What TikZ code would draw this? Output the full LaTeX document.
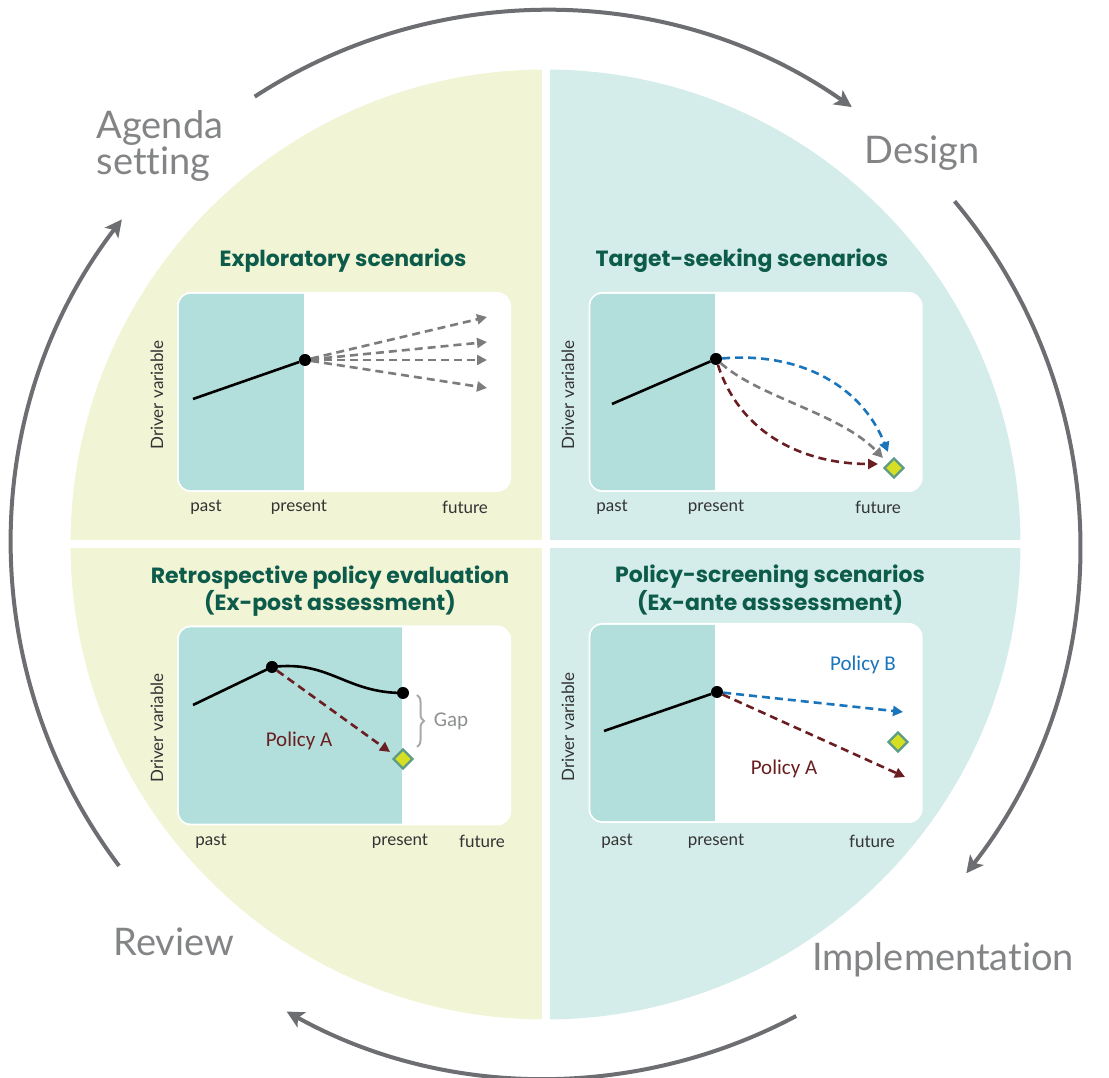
\documentclass[tikz,border=0pt]{standalone}
\usepackage{fontspec}
\setmainfont{Lato}[Ligatures={NoCommon}]
\newfontfamily\titleFont{Poppins}
\newfontfamily\noteFont{Carlito}
\usetikzlibrary{arrows.meta, positioning, shapes.geometric, calc, decorations.pathreplacing}
\definecolor{verdeClaro}{HTML}{F1F5D6}
\definecolor{aguaClaro}{HTML}{D5EDEA}
\definecolor{aguaMedio}{HTML}{B2DFDB}
\definecolor{verdeOscuro}{HTML}{0D5C4B}
\definecolor{grisCiclo}{HTML}{6D6E71}
\definecolor{grisClaro}{HTML}{A7A9AC}
\definecolor{granate}{HTML}{6A1E22}
\definecolor{azulPolitica}{HTML}{1B75BB}
\definecolor{amarilloMeta}{HTML}{D7DF23}
\definecolor{verdeMeta}{HTML}{5E9C86}
\colorlet{colLeft}{verdeClaro}
\colorlet{colRight}{aguaClaro}
\colorlet{colShade}{aguaMedio}
\colorlet{colTitle}{verdeOscuro}
\colorlet{colCycle}{grisCiclo}
\colorlet{colStage}{grisCiclo!85!white}
\colorlet{colAxis}{black!80}
\colorlet{colPolicyA}{granate}
\colorlet{colPolicyB}{azulPolitica}
\colorlet{colBrace}{grisClaro}
\tikzset{
  panelBox/.style={fill=white, rounded corners=14pt, minimum width=334pt,
    minimum height=200pt, inner sep=0pt},
  pastZone/.style={fill=colShade},
  trendLine/.style={line width=2.6pt, black},
  nowDot/.style={circle, fill=black, minimum size=12pt, inner sep=0pt},
  targetMark/.style={diamond, draw=verdeMeta, line width=2.4pt, fill=amarilloMeta,
    minimum size=20pt, inner sep=0pt},
  pathArrow/.style={-{Triangle[length=10pt, width=10pt]}, line width=2.6pt,
    dash pattern=on 8pt off 5pt},
  cycleArrow/.style={-{Stealth[length=17pt, width=17pt, inset=4pt]}, line width=4pt, colCycle},
  titleLabel/.style={font=\titleFont\bfseries\fontsize{22}{22}\selectfont, text=colTitle,
    align=center},
  axisLabel/.style={font=\fontsize{17}{19}\selectfont, text=colAxis},
  stageLabel/.style={font=\fontsize{38}{36}\selectfont, text=colStage, align=left},
  policyLabel/.style={font=\noteFont\fontsize{21}{23}\selectfont},
}
\begin{document}
\begin{tikzpicture}[x=1pt, y=1pt]
  \useasboundingbox (0,0) rectangle (1109,1078);
  \coordinate (C) at (545.5,533.5);

  % quadrantes
  \fill[colLeft] (C) ++(90:475) arc[start angle=90, end angle=270, radius=475] -- cycle;
  \fill[colRight] (C) ++(90:475) arc[start angle=90, end angle=-90, radius=475] -- cycle;
  \draw[white, line width=8pt] ($(C)+(0,-480)$) -- ($(C)+(0,480)$);
  \draw[white, line width=8pt] ($(C)+(-480,0)$) -- ($(C)+(480,0)$);

  % ciclo de politica
  \node[stageLabel] (agenda) at (160,932) {Agenda\\setting};
  \node[stageLabel] (design) at (922,925) {Design};
  \node[stageLabel] (implem) at (943,118) {Implementation};
  \node[stageLabel] (review) at (174,136) {Review};
  \coordinate (topS) at ($(C)+(123:534)$);
  \coordinate (rightS) at ($(C)+(40:534)$);
  \coordinate (bottomS) at ($(C)+(-62:534)$);
  \coordinate (leftS) at ($(C)+(217:534)$);
  \draw[cycleArrow] (topS) arc[start angle=123, end angle=55, radius=534];
  \draw[cycleArrow] (rightS) arc[start angle=40, end angle=-38, radius=534];
  \draw[cycleArrow] (bottomS) arc[start angle=-62, end angle=-119, radius=534];
  \draw[cycleArrow] (leftS) arc[start angle=217, end angle=142.5, radius=534];

  % exploratorio
  \node[titleLabel] (expTitle) at (343,817) {Exploratory scenarios};
  \node[panelBox] (expBox) at (344,686) {};
  \begin{scope}
    \clip[rounded corners=12pt] ($(expBox.south west)+(2,2)$) rectangle ($(expBox.north east)-(2,2)$);
    \fill[pastZone] (expBox.south west) rectangle (304,786);
  \end{scope}
  \coordinate (expStart) at (193,679);
  \node[nowDot] (expNow) at (305,718) {};
  \draw[trendLine] (expStart) -- (expNow);
  \foreach \y [count=\i] in {761,736,718,690} {
    \coordinate (expEnd\i) at (487,\y);
    \draw[pathArrow, colCycle!90!white] (expNow) -- (expEnd\i);
  }
  \node[axisLabel, rotate=90] (expDriver) at (157,683) {Driver variable};
  \node[axisLabel] (expPast) at (206,571) {past};
  \node[axisLabel] (expPresent) at (299,571) {present};
  \node[axisLabel] (expFuture) at (465,571) {future};

  % busqueda de meta
  \node[titleLabel] (tgtTitle) at (742,817) {Target-seeking scenarios};
  \node[panelBox] (tgtBox) at (755.5,686) {};
  \begin{scope}
    \clip[rounded corners=12pt] ($(tgtBox.south west)+(2,2)$) rectangle ($(tgtBox.north east)-(2,2)$);
    \fill[pastZone] (tgtBox.south west) rectangle (715,786);
  \end{scope}
  \coordinate (tgtStart) at (612,674);
  \node[nowDot] (tgtNow) at (716,719) {};
  \draw[trendLine] (tgtStart) -- (tgtNow);
  \node[targetMark] (tgtGoal) at (894,610) {};
  \coordinate (tgtEndB) at (888,626);
  \coordinate (tgtEndG) at (883,620);
  \coordinate (tgtEndA) at (878,614);
  \draw[pathArrow, colPolicyB] (tgtNow) to[out=5, in=112] (tgtEndB);
  \draw[pathArrow, colCycle!90!white] (tgtNow) .. controls (760,680) and (840,665) .. (tgtEndG);
  \draw[pathArrow, colPolicyA] (tgtNow) to[out=-72, in=180] (tgtEndA);
  \node[axisLabel, rotate=90] (tgtDriver) at (568,683) {Driver variable};
  \node[axisLabel] (tgtPast) at (612,571) {past};
  \node[axisLabel] (tgtPresent) at (716,571) {present};
  \node[axisLabel] (tgtFuture) at (878,571) {future};

  % evaluacion retrospectiva
  \node[titleLabel] (retTitle) at (330,487) {Retrospective policy evaluation\\(Ex-post assessment)};
  \node[panelBox] (retBox) at (344,352.5) {};
  \begin{scope}
    \clip[rounded corners=12pt] ($(retBox.south west)+(2,2)$) rectangle ($(retBox.north east)-(2,2)$);
    \fill[pastZone] (retBox.south west) rectangle (402,453);
  \end{scope}
  \coordinate (retStart) at (193,373);
  \node[nowDot] (retPeak) at (272,411) {};
  \node[nowDot] (retNow) at (403,385) {};
  \draw[trendLine] (retStart) -- (retPeak.center)
    .. controls (330,418) and (345,385) .. (retNow.center);
  \coordinate (retEndA) at (390,326);
  \draw[pathArrow, colPolicyA] (retPeak) -- (retEndA);
  \node[targetMark] (retGoal) at (403,319) {};
  \draw[decorate, decoration={brace, amplitude=7pt}, line width=2pt, colBrace]
    (417,383) -- (417,331);
  \node[policyLabel, text=colBrace!85!black] (gapLabel) at (451,357) {Gap};
  \node[policyLabel, text=colPolicyA] (retPolA) at (299,337) {Policy A};
  \node[axisLabel, rotate=90] (retDriver) at (157,350) {Driver variable};
  \node[axisLabel] (retPast) at (211,237) {past};
  \node[axisLabel] (retPresent) at (400,237) {present};
  \node[axisLabel] (retFuture) at (482,237) {future};

  % cribado de politicas
  \node[titleLabel] (scrTitle) at (770,488) {Policy-screening scenarios\\(Ex-ante asssessment)};
  \node[panelBox] (scrBox) at (755.5,355) {};
  \begin{scope}
    \clip[rounded corners=12pt] ($(scrBox.south west)+(2,2)$) rectangle ($(scrBox.north east)-(2,2)$);
    \fill[pastZone] (scrBox.south west) rectangle (715,455);
  \end{scope}
  \coordinate (scrStart) at (604,347);
  \node[nowDot] (scrNow) at (717,386) {};
  \draw[trendLine] (scrStart) -- (scrNow);
  \coordinate (scrEndB) at (903,366);
  \coordinate (scrEndA) at (905,301);
  \draw[pathArrow, colPolicyB] (scrNow) -- (scrEndB);
  \draw[pathArrow, colPolicyA] (scrNow) -- (scrEndA);
  \node[targetMark] (scrGoal) at (898,336) {};
  \node[policyLabel, text=colPolicyB] (scrPolB) at (863,413) {Policy B};
  \node[policyLabel, text=colPolicyA] (scrPolA) at (784,309) {Policy A};
  \node[axisLabel, rotate=90] (scrDriver) at (568,351) {Driver variable};
  \node[axisLabel] (scrPast) at (617,237) {past};
  \node[axisLabel] (scrPresent) at (716,237) {present};
  \node[axisLabel] (scrFuture) at (872,237) {future};
\end{tikzpicture}
\end{document}
